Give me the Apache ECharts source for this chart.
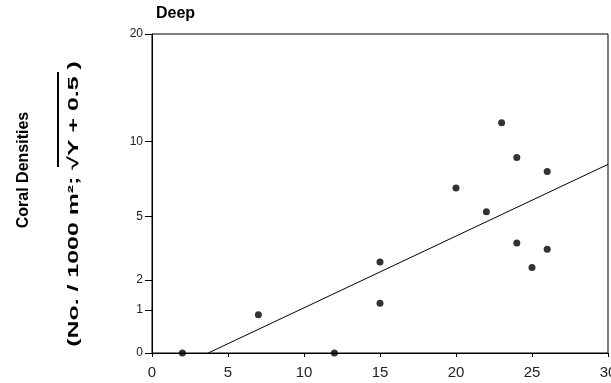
<!DOCTYPE html>
<html>
<head>
<meta charset="utf-8">
<script src="https://cdn.jsdelivr.net/npm/echarts@6/dist/echarts.min.js"></script>
<style>
  html, body { margin: 0; padding: 0; background: #fff; }
  #chart { width: 611px; height: 383px; }
</style>
</head>
<body>
<div id="chart"></div>
<script>
// depth (x) and coral density (untransformed Y)
const pointX = [2, 7, 12, 15, 15, 20, 22, 23, 24, 24, 25, 26, 26];
const pointY = [0, 0.86, 0, 1.2, 2.73, 6.7, 5.25, 11.5, 8.8, 3.6, 2.5, 7.8, 3.3];
// fitted line end points (untransformed Y)
const lineX = [3.7, 30];
const lineY = [0, 8.3];
// y tick labels (original scale)
const yTicks = [0, 1, 2, 5, 10, 20];
const xTicks = [0, 5, 10, 15, 20, 25, 30];

// sqrt(Y + 0.5) transform
const tr = v => Math.sqrt(v + 0.5);

const chart = echarts.init(document.getElementById('chart'));

const option = {
  animation: false,
  grid: {
    left: 152, right: 3, top: 34, bottom: 30,
    containLabel: false, outerBoundsMode: 'none',
    show: true, borderColor: '#000', borderWidth: 1
  },
  xAxis: {
    type: 'value',
    min: 0, max: 30, interval: 5,
    axisLine: { lineStyle: { color: '#000', width: 1 } },
    axisTick: { inside: false, length: 4, lineStyle: { color: '#000' } },
    axisLabel: {
      color: '#222', fontFamily: 'Liberation Sans, Arial', fontSize: 15, margin: 12,
      customValues: xTicks
    },
    splitLine: { show: false }
  },
  yAxis: {
    type: 'value',
    min: tr(0), max: tr(20),
    axisLine: { show: true, lineStyle: { color: '#000', width: 1 } },
    axisTick: { show: true, length: 7, lineStyle: { color: '#000' }, customValues: yTicks.map(tr) },
    axisLabel: {
      color: '#222', fontFamily: 'Liberation Sans, Arial', fontSize: 12, margin: 9,
      customValues: yTicks.map(tr),
      formatter: v => String(Math.round(v * v - 0.5))
    },
    splitLine: { show: false }
  },
  series: [
    {
      type: 'scatter',
      symbol: 'circle',
      symbolSize: 7,
      itemStyle: { color: '#000' },
      data: pointX.map((x, i) => [x, tr(pointY[i])])
    },
    {
      type: 'line',
      showSymbol: false,
      lineStyle: { color: '#000', width: 1 },
      data: lineX.map((x, i) => [x, tr(lineY[i])])
    }
  ],
  graphic: [
    {
      type: 'text', left: 156, top: 6,
      style: { text: 'Deep', font: 'bold 16px "Liberation Sans", Arial', fill: '#000' }
    },
    {
      type: 'text', x: 24, y: 170, rotation: Math.PI / 2,
      style: {
        text: 'Coral Densities', font: 'bold 16px "Liberation Sans", Arial', fill: '#000',
        align: 'center', verticalAlign: 'middle'
      }
    },
    {
      type: 'text', x: 74, y: 204, rotation: Math.PI / 2, scaleX: 1.66,
      style: {
        text: '(No. / 1000 m²; √Y + 0.5 )', font: 'bold 15px "Liberation Sans", Arial', fill: '#000',
        align: 'center', verticalAlign: 'middle'
      }
    },
    {
      type: 'line',
      shape: { x1: 58, y1: 72, x2: 58, y2: 167 },
      style: { stroke: '#000', lineWidth: 2 }
    }
  ]
};

chart.setOption(option);
</script>
</body>
</html>
